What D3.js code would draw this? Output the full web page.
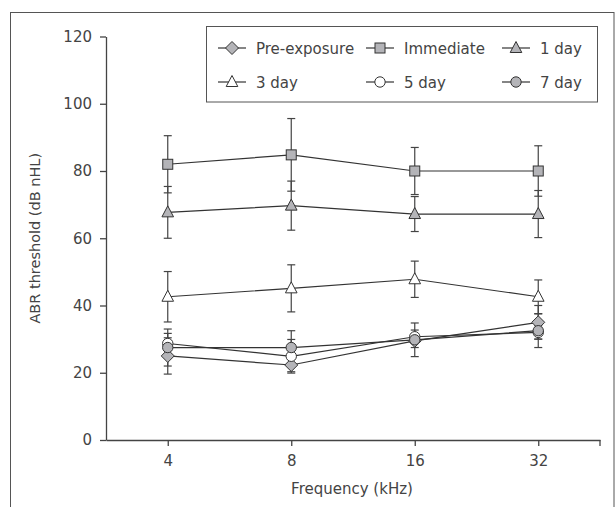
<!DOCTYPE html>
<html>
<head>
<meta charset="utf-8">
<script src="https://cdn.jsdelivr.net/npm/d3@7"></script>
<style>
  html, body { margin: 0; padding: 0; background: #fff; }
  svg { display: block; }
  text { font-family: "DejaVu Sans", sans-serif; fill: #444; }
</style>
</head>
<body>
<svg id="chart" width="616" height="507"></svg>
<script>
// ---- data ----
const frequencies = ["4", "8", "16", "32"];
const seriesNames = ["Pre-exposure", "Immediate", "1 day", "3 day", "5 day", "7 day"];
const preExposure = [25.0, 22.3, 29.5, 35.0];
const preExposureErr = [5.4, 2.0, 2.0, 5.0];
const immediate = [82.0, 84.8, 80.0, 80.0];
const immediateErr = [8.5, 10.8, 7.0, 7.5];
const day1 = [67.7, 69.7, 67.2, 67.2];
const day1Err = [7.7, 7.3, 5.2, 7.0];
const day3 = [42.6, 45.1, 47.8, 42.6];
const day3Err = [7.5, 7.0, 5.4, 5.0];
const day5 = [28.7, 24.9, 30.7, 32.0];
const day5Err = [3.0, 5.0, 2.0, 2.0];
const day7 = [27.5, 27.5, 29.8, 32.5];
const day7Err = [5.5, 5.0, 5.0, 5.0];
const yTicks = [0, 20, 40, 60, 80, 100, 120];

const seriesValues = [preExposure, immediate, day1, day3, day5, day7];
const seriesErrs = [preExposureErr, immediateErr, day1Err, day3Err, day5Err, day7Err];
const symbolsOf = ["diamond", "square", "triangle", "triangle", "circle", "circle"];
const fillsOf = ["#b4b4b8", "#b4b4b8", "#b4b4b8", "#ffffff", "#ffffff", "#b4b4b8"];

// ---- layout ----
const svg = d3.select("#chart");
const mLeft = 106, mRight = 600, mTop = 36.5, mBottom = 440;

svg.append("rect").attr("x", 10.5).attr("y", 12.5).attr("width", 603.5).attr("height", 520)
  .attr("fill", "none").attr("stroke", "#555").attr("stroke-width", 1);

const x = d3.scalePoint().domain(frequencies).range([mLeft, mRight]).padding(0.5);
const y = d3.scaleLinear().domain([0, 120]).range([mBottom, mTop]);

const axisColor = "#444";

// y axis
const ya = svg.append("g").attr("transform", `translate(${mLeft},0)`)
  .call(d3.axisLeft(y).tickValues(yTicks).tickSize(6).tickSizeOuter(0).tickPadding(8));
// x axis
const xa = svg.append("g").attr("transform", `translate(0,${mBottom})`)
  .call(d3.axisBottom(x).tickSize(6).tickSizeOuter(0).tickPadding(9));
[ya, xa].forEach(g => {
  g.select(".domain").attr("stroke", axisColor).attr("stroke-width", 1.3);
  g.selectAll(".tick line").attr("stroke", axisColor).attr("stroke-width", 1.3);
  g.selectAll(".tick text").style("font-size", "15px").style("font-family", "DejaVu Sans, sans-serif").attr("fill", "#444");
});
// end tick at the right of x axis
xa.append("line").attr("x1", mRight).attr("x2", mRight).attr("y1", 0).attr("y2", 6)
  .attr("stroke", axisColor).attr("stroke-width", 1.3);

// axis titles
svg.append("text").attr("transform", `translate(40,${y(60)}) rotate(-90)`)
  .attr("text-anchor", "middle").style("font-size", "14.5px").text("ABR threshold (dB nHL)");
svg.append("text").attr("x", (mLeft + mRight) / 2 - 1).attr("y", 494)
  .attr("text-anchor", "middle").style("font-size", "15px").text("Frequency (kHz)");

// symbol drawing
function drawMarker(g, type, cx, cy, fill) {
  if (type === "circle") {
    g.append("circle").attr("cx", cx).attr("cy", cy).attr("r", 5.2)
      .attr("fill", fill).attr("stroke", "#333").attr("stroke-width", 1);
  } else if (type === "square") {
    g.append("rect").attr("x", cx - 5).attr("y", cy - 5).attr("width", 10).attr("height", 10)
      .attr("fill", fill).attr("stroke", "#333").attr("stroke-width", 1);
  } else if (type === "diamond") {
    g.append("path").attr("d", `M${cx},${cy - 6.5}L${cx + 6.5},${cy}L${cx},${cy + 6.5}L${cx - 6.5},${cy}Z`)
      .attr("fill", fill).attr("stroke", "#333").attr("stroke-width", 1);
  } else if (type === "triangle") {
    g.append("path").attr("d", `M${cx},${cy - 6.5}L${cx + 5.8},${cy + 4.5}L${cx - 5.8},${cy + 4.5}Z`)
      .attr("fill", fill).attr("stroke", "#333").attr("stroke-width", 1);
  }
}

// error bars
const eb = svg.append("g");
seriesValues.forEach((vals, si) => {
  vals.forEach((v, i) => {
    const e = seriesErrs[si][i];
    const cx = x(frequencies[i]);
    eb.append("line").attr("x1", cx).attr("x2", cx).attr("y1", y(v + e)).attr("y2", y(v - e))
      .attr("stroke", "#444").attr("stroke-width", 1.2);
    [v + e, v - e].forEach(t => {
      eb.append("line").attr("x1", cx - 4).attr("x2", cx + 4).attr("y1", y(t)).attr("y2", y(t))
        .attr("stroke", "#444").attr("stroke-width", 1.2);
    });
  });
});

// lines
const line = d3.line().x((d, i) => x(frequencies[i])).y(d => y(d));
const lg = svg.append("g");
seriesValues.forEach(vals => {
  lg.append("path").attr("d", line(vals)).attr("fill", "none")
    .attr("stroke", "#333").attr("stroke-width", 1.2);
});

// markers
const mg = svg.append("g");
seriesValues.forEach((vals, si) => {
  vals.forEach((v, i) => drawMarker(mg, symbolsOf[si], x(frequencies[i]), y(v), fillsOf[si]));
});

// legend
const leg = svg.append("g");
leg.append("rect").attr("x", 206.5).attr("y", 26.5).attr("width", 391).attr("height", 75.5)
  .attr("fill", "#fff").attr("stroke", "#555").attr("stroke-width", 1);
const colX = [232, 380, 516];
const rowY = [48, 82];
seriesNames.forEach((name, si) => {
  const cx = colX[si % 3], cy = rowY[Math.floor(si / 3)];
  leg.append("line").attr("x1", cx - 14).attr("x2", cx + 14).attr("y1", cy).attr("y2", cy)
    .attr("stroke", "#333").attr("stroke-width", 1.2);
  drawMarker(leg, symbolsOf[si], cx, cy, fillsOf[si]);
  leg.append("text").attr("x", cx + 24).attr("y", cy + 5.5).style("font-size", "15px").text(name);
});
</script>
</body>
</html>
